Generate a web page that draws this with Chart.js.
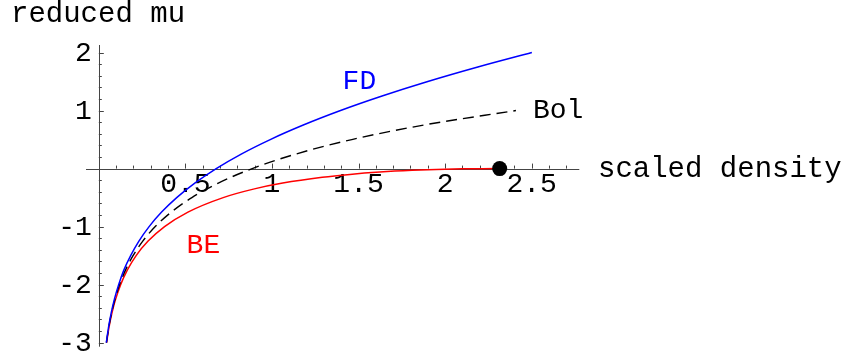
<!DOCTYPE html>
<html>
<head>
<meta charset="utf-8">
<script src="https://cdn.jsdelivr.net/npm/chart.js@4"></script>
<style>
  html, body { margin: 0; padding: 0; background: #ffffff; }
  #wrap { width: 846px; height: 358px; position: relative; }
</style>
</head>
<body>
<div id="wrap"><canvas id="chart" width="846" height="358"></canvas></div>
<script>
// Reduced chemical potential versus scaled density for the three statistics.
const fdDensity  = [0.0434, 0.0554, 0.0707, 0.0901, 0.1146, 0.1445, 0.1839, 0.2316, 0.2905, 0.3626, 0.4498, 0.5543, 0.6781, 0.8225, 0.990, 1.181, 1.396, 1.636, 1.900, 2.189, 2.501];
const fdMu       = [-3, -2.75, -2.5, -2.25, -2, -1.75, -1.5, -1.25, -1, -0.75, -0.5, -0.25, 0, 0.25, 0.5, 0.75, 1, 1.25, 1.5, 1.75, 2];

const bolDensity = [0.0441, 0.0567, 0.0727, 0.0934, 0.1199, 0.1540, 0.1977, 0.2539, 0.3260, 0.4186, 0.5375, 0.6902, 0.8862, 1.1379, 1.4611, 1.8761, 2.4090];
const bolMu      = [-3, -2.75, -2.5, -2.25, -2, -1.75, -1.5, -1.25, -1, -0.75, -0.5, -0.25, 0, 0.25, 0.5, 0.75, 1];

const beDensity  = [0.0449, 0.0580, 0.0750, 0.0971, 0.1261, 0.1645, 0.2155, 0.2846, 0.3797, 0.5149, 0.7183, 0.8984, 1.0622, 1.2906, 1.4502, 1.6229, 1.8097, 1.9497, 2.0994, 2.2171, 2.3151];
const beMu       = [-3, -2.75, -2.5, -2.25, -2, -1.75, -1.5, -1.25, -1, -0.75, -0.5, -0.35, -0.25, -0.15, -0.1, -0.06, -0.03, -0.015, -0.005, -0.001, 0];

// Bose condensation point
const condensationDensity = [2.3151];
const condensationMu      = [0];

// Axis ticks and labels
const xMajorTicks  = [0.5, 1, 1.5, 2, 2.5];
const xTickLabels  = ["0.5", "1", "1.5", "2", "2.5"];
const xMinorTicks  = [0.1, 0.2, 0.3, 0.4, 0.6, 0.7, 0.8, 0.9, 1.1, 1.2, 1.3, 1.4, 1.6, 1.7, 1.8, 1.9, 2.1, 2.2, 2.3, 2.4, 2.6, 2.7];
const yMajorTicks  = [2, 1, -1, -2, -3];
const yTickLabels  = ["2", "1", "-1", "-2", "-3"];
const yMinorTicks  = [1.8, 1.6, 1.4, 1.2, 0.8, 0.6, 0.4, 0.2, -0.2, -0.4, -0.6, -0.8, -1.2, -1.4, -1.6, -1.8, -2.2, -2.4, -2.6, -2.8];

const seriesNames = ["FD", "Bol", "BE"];

const toPoints = (xs, ys) => xs.map((x, i) => ({ x: x, y: ys[i] }));

const FONT = '"Liberation Mono", "DejaVu Sans Mono", monospace';

// Curve labels anchored in data units (left edge, baseline)
const curveLabels = [
  { text: seriesNames[0], x: 1.408, y: 1.372, color: "#0000ff" },
  { text: seriesNames[1], x: 2.507, y: 0.867, color: "#000000" },
  { text: seriesNames[2], x: 0.507, y: -1.46, color: "#ff0000" }
];

const axesPlugin = {
  id: "crossAxes",
  beforeDatasetsDraw(chart) {
    const ctx = chart.ctx;
    const xs = chart.scales.x, ys = chart.scales.y;
    const x0 = xs.getPixelForValue(0), y0 = ys.getPixelForValue(0);
    const ca = chart.chartArea;
    ctx.save();
    ctx.strokeStyle = "#444444";
    ctx.lineWidth = 1;
    ctx.beginPath();
    // horizontal axis through mu = 0
    ctx.moveTo(ca.left, Math.round(y0) + 0.5);
    ctx.lineTo(ca.right, Math.round(y0) + 0.5);
    // vertical axis through density = 0
    ctx.moveTo(Math.round(x0) + 0.5, ca.top);
    ctx.lineTo(Math.round(x0) + 0.5, ca.bottom);
    // ticks on the horizontal axis point upward
    xMajorTicks.forEach(v => {
      const p = Math.round(xs.getPixelForValue(v)) + 0.5;
      ctx.moveTo(p, y0); ctx.lineTo(p, y0 - 5);
    });
    xMinorTicks.forEach(v => {
      const p = Math.round(xs.getPixelForValue(v)) + 0.5;
      ctx.moveTo(p, y0); ctx.lineTo(p, y0 - 3);
    });
    // ticks on the vertical axis point right
    yMajorTicks.forEach(v => {
      const p = Math.round(ys.getPixelForValue(v)) + 0.5;
      ctx.moveTo(x0, p); ctx.lineTo(x0 + 5, p);
    });
    yMinorTicks.forEach(v => {
      const p = Math.round(ys.getPixelForValue(v)) + 0.5;
      ctx.moveTo(x0, p); ctx.lineTo(x0 + 3, p);
    });
    ctx.stroke();

    // tick labels
    ctx.fillStyle = "#000000";
    ctx.font = "28px " + FONT;
    ctx.textAlign = "center";
    ctx.textBaseline = "alphabetic";
    xMajorTicks.forEach((v, i) => {
      ctx.fillText(xTickLabels[i], xs.getPixelForValue(v), y0 + 23);
    });
    ctx.textAlign = "right";
    ctx.textBaseline = "middle";
    yMajorTicks.forEach((v, i) => {
      ctx.fillText(yTickLabels[i], x0 - 7, ys.getPixelForValue(v) + 1);
    });

    // axis titles
    ctx.font = "29px " + FONT;
    ctx.textAlign = "left";
    ctx.textBaseline = "alphabetic";
    ctx.fillText("reduced mu", 11, 22);
    ctx.fillText("scaled density", 598, y0 + 8.5);
    ctx.restore();
  },
  afterDatasetsDraw(chart) {
    const ctx = chart.ctx;
    const xs = chart.scales.x, ys = chart.scales.y;
    ctx.save();
    ctx.font = "28px " + FONT;
    ctx.textAlign = "left";
    ctx.textBaseline = "alphabetic";
    curveLabels.forEach(l => {
      ctx.fillStyle = l.color;
      ctx.fillText(l.text, xs.getPixelForValue(l.x), ys.getPixelForValue(l.y));
    });
    ctx.restore();
  }
};

new Chart(document.getElementById("chart"), {
  type: "scatter",
  data: {
    datasets: [
      {
        label: "condensation",
        data: toPoints(condensationDensity, condensationMu),
        showLine: false,
        pointRadius: 7.5,
        pointBackgroundColor: "#000000",
        pointBorderWidth: 0,
        clip: false
      },
      {
        label: seriesNames[0],
        data: toPoints(fdDensity, fdMu),
        showLine: true,
        borderColor: "#0000ff",
        borderWidth: 1.5,
        pointRadius: 0,
        cubicInterpolationMode: "monotone",
        clip: false
      },
      {
        label: seriesNames[1],
        data: toPoints(bolDensity, bolMu),
        showLine: true,
        borderColor: "#000000",
        borderWidth: 1.4,
        borderDash: [11, 6],
        pointRadius: 0,
        cubicInterpolationMode: "monotone",
        clip: false
      },
      {
        label: seriesNames[2],
        data: toPoints(beDensity, beMu),
        showLine: true,
        borderColor: "#ff0000",
        borderWidth: 1.5,
        pointRadius: 0,
        cubicInterpolationMode: "monotone",
        clip: false
      }
    ]
  },
  options: {
    responsive: false,
    animation: false,
    layout: { padding: { left: 86, right: 266.7, top: 45, bottom: 11.3 } },
    plugins: { legend: { display: false }, tooltip: { enabled: false }, title: { display: false } },
    scales: {
      x: { type: "linear", min: -0.074, max: 2.775, display: false },
      y: { type: "linear", min: -3.07, max: 2.13, display: false }
    }
  },
  plugins: [axesPlugin]
});
</script>
</body>
</html>
